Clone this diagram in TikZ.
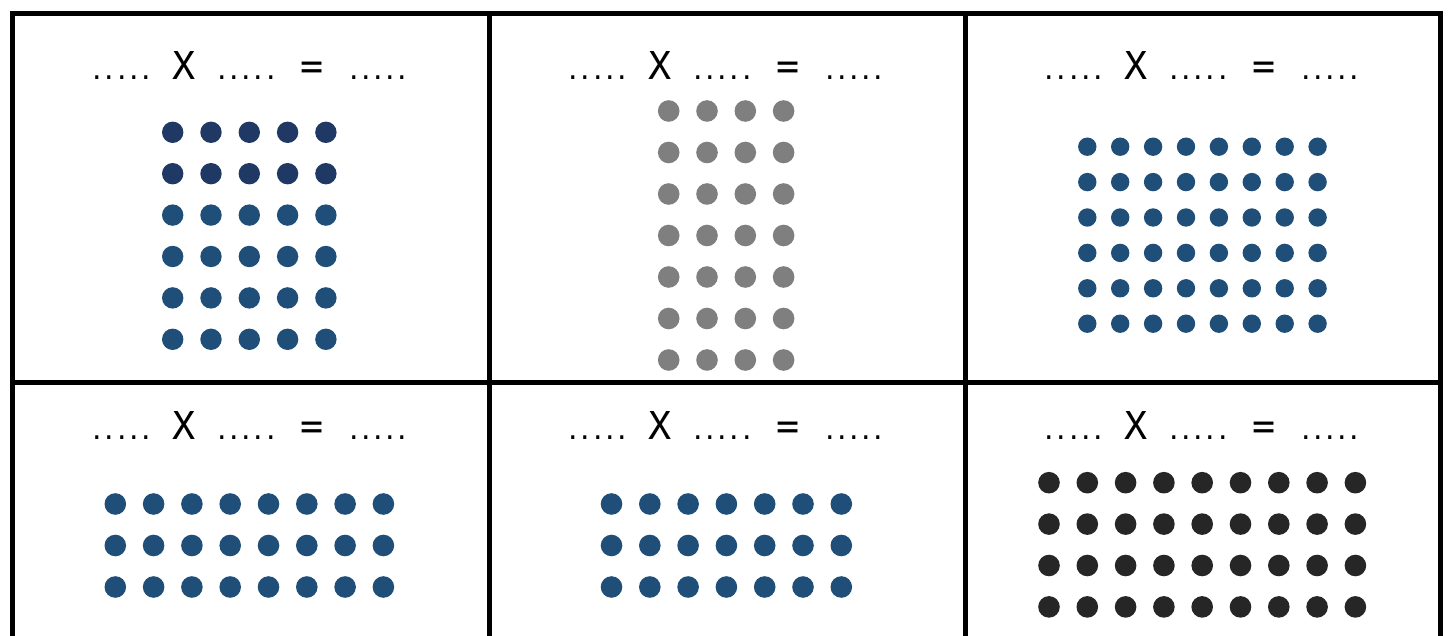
\documentclass[tikz,border=0pt]{standalone}
\usepackage{fontspec}
\setmainfont{DejaVu Sans}
\newfontfamily\signfont{DejaVu Sans Mono}
\usepackage{tikz}
\usetikzlibrary{positioning}
\definecolor{DotNavy}{RGB}{31,56,100}
\definecolor{DotBlue}{RGB}{31,78,121}
\definecolor{DotGray}{RGB}{127,127,127}
\definecolor{DotBlack}{RGB}{38,38,38}
\newcommand{\blank}{.\kern1.3pt.\kern1.3pt.\kern1.3pt.\kern1.3pt.}
\newcommand{\sign}[1]{{\signfont\fontsize{19.2}{22}\selectfont #1}}
\newcommand{\eqline}{\blank\hspace{10.9pt}\sign{X}\hspace{10.9pt}\blank\hspace{12.6pt}\sign{=}\hspace{12.6pt}\blank}

\begin{document}
\begin{tikzpicture}[
  x=0.5pt,y=-0.5pt,
  rule/.style={line width=2.5pt,black},
  eqn/.style={anchor=base,inner sep=0pt,font=\fontsize{15}{18}\selectfont}
]
  \useasboundingbox (0,0) rectangle (1448,636);
  % table lines
  \draw[rule] (12,636) -- (12,14) -- (1440,14) -- (1440,636);
  \draw[rule] (489,14) -- (489,636);
  \draw[rule] (965,14) -- (965,636);
  \draw[rule] (12,383) -- (1440,383);

  % equations
  \node[eqn] (eqA) at (250,80) {\eqline};
  \node[eqn] (eqB) at (726,80) {\eqline};
  \node[eqn] (eqC) at (1202,80) {\eqline};
  \node[eqn] (eqD) at (250,440) {\eqline};
  \node[eqn] (eqE) at (726,440) {\eqline};
  \node[eqn] (eqF) at (1202,440) {\eqline};

  % 5 x 6
  \foreach \i in {0,...,4}
    \foreach \j in {0,1}
      \fill[DotNavy] ({172.7+38.3*\i},{132.3+41.4*\j}) circle[radius=5.35pt];
  \foreach \i in {0,...,4}
    \foreach \j in {2,...,5}
      \fill[DotBlue] ({172.7+38.3*\i},{132.3+41.4*\j}) circle[radius=5.35pt];
  % 4 x 7
  \foreach \i in {0,...,3}
    \foreach \j in {0,...,6}
      \fill[DotGray] ({668.7+38.3*\i},{111+41.5*\j}) circle[radius=5.4pt];
  % 8 x 6
  \foreach \i in {0,...,7}
    \foreach \j in {0,...,5}
      \fill[DotBlue] ({1087.3+32.9*\i},{146.7+35.4*\j}) circle[radius=4.6pt];
  % 8 x 3
  \foreach \i in {0,...,7}
    \foreach \j in {0,...,2}
      \fill[DotBlue] ({115.3+38.3*\i},{504+41.5*\j}) circle[radius=5.4pt];
  % 7 x 3
  \foreach \i in {0,...,6}
    \foreach \j in {0,...,2}
      \fill[DotBlue] ({611.5+38.3*\i},{504+41.5*\j}) circle[radius=5.4pt];
  % 9 x 4
  \foreach \i in {0,...,8}
    \foreach \j in {0,...,3}
      \fill[DotBlack] ({1049+38.3*\i},{482.7+41.4*\j}) circle[radius=5.4pt];
\end{tikzpicture}
\end{document}
